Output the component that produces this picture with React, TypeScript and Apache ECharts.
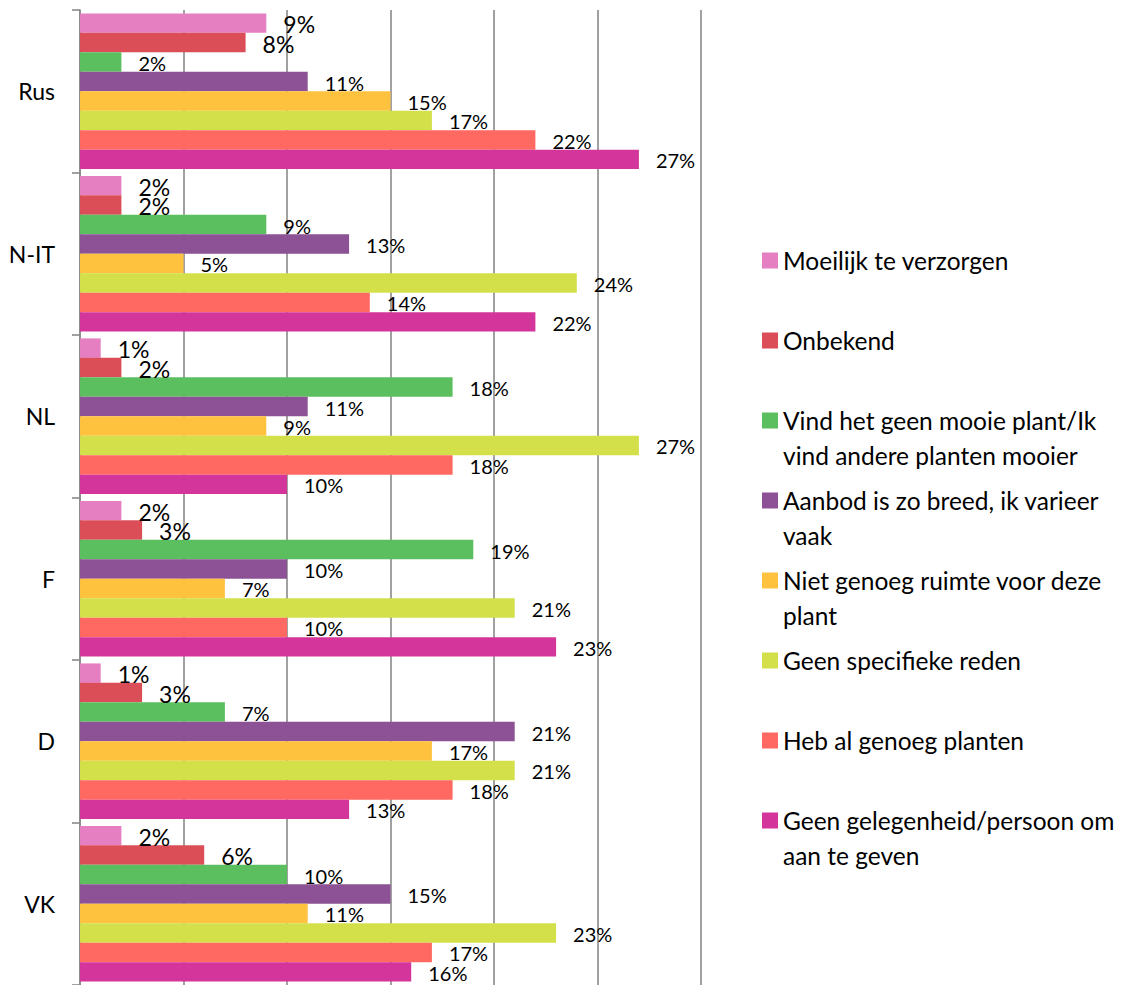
import React, { useEffect, useRef } from "react";
import * as echarts from "echarts";

const categories = ["Rus", "N-IT", "NL", "F", "D", "VK"];

const seriesNames = [
  "Moeilijk te verzorgen",
  "Onbekend",
  "Vind het geen mooie plant/Ik vind andere planten mooier",
  "Aanbod is zo breed, ik varieer vaak",
  "Niet genoeg ruimte voor deze plant",
  "Geen specifieke reden",
  "Heb al genoeg planten",
  "Geen gelegenheid/persoon om aan te geven",
];

const legendLines = [
  "Moeilijk te verzorgen",
  "Onbekend",
  "Vind het geen mooie plant/Ik\nvind andere planten mooier",
  "Aanbod is zo breed, ik varieer\nvaak",
  "Niet genoeg ruimte voor deze\nplant",
  "Geen specifieke reden",
  "Heb al genoeg planten",
  "Geen gelegenheid/persoon om\naan te geven",
];

const colors = [
  "#E57FC2",
  "#DB4E58",
  "#5BBF5F",
  "#8D5195",
  "#FFC23F",
  "#D3E04A",
  "#FF6961",
  "#D4359A",
];

const moeilijk = [9, 2, 1, 2, 1, 2];
const onbekend = [8, 2, 2, 3, 3, 6];
const vind = [2, 9, 18, 19, 7, 10];
const aanbod = [11, 13, 11, 10, 21, 15];
const nietGenoeg = [15, 5, 9, 7, 17, 11];
const geenSpecifiek = [17, 24, 27, 21, 21, 23];
const hebAl = [22, 14, 18, 10, 18, 17];
const geenGelegenheid = [27, 22, 10, 23, 13, 16];

const seriesValues = [
  moeilijk,
  onbekend,
  vind,
  aanbod,
  nietGenoeg,
  geenSpecifiek,
  hebAl,
  geenGelegenheid,
];

const FONT = "Lato, 'Open Sans', sans-serif";

export default function App() {
  const ref = useRef<HTMLDivElement>(null);

  useEffect(() => {
    if (!ref.current) return;
    const chart = echarts.init(ref.current, undefined, { renderer: "svg" });

    const series = seriesNames.map((name, i) => ({
      name,
      type: "bar",
      data: seriesValues[i],
      barGap: "0%",
      barCategoryGap: "4.2%",
      itemStyle: { color: colors[i] },
      label: {
        show: true,
        position: "right",
        distance: 17,
        offset: [0, 1],
        formatter: "{c}%",
        color: "#000",
        fontFamily: FONT,
        fontSize: i < 2 ? 23 : 20,
      },
    }));

    const legendGraphics: any[] = [];
    legendLines.forEach((txt, i) => {
      const cy = 260 + 80 * i;
      legendGraphics.push({
        type: "rect",
        shape: { x: 762, y: cy - 7.5, width: 16, height: 16 },
        style: { fill: colors[i] },
      });
      legendGraphics.push({
        type: "text",
        x: 783,
        y: cy - 17.5,
        style: {
          text: txt,
          fill: "#000",
          fontFamily: FONT,
          fontSize: 24.5,
          lineHeight: 35,
          verticalAlign: "top",
          align: "left",
        },
      });
    });

    chart.setOption({
      animation: false,
      backgroundColor: "#fff",
      grid: { left: 80, top: 10, width: 621, height: 977, containLabel: false },
      xAxis: {
        type: "value",
        min: 0,
        max: 30,
        interval: 5,
        axisLabel: { show: false },
        axisLine: { show: false },
        axisTick: { show: false },
        splitLine: { show: true, lineStyle: { color: "#8A8A8A", width: 1.6 } },
      },
      yAxis: {
        type: "category",
        inverse: true,
        data: categories,
        axisLine: { show: true, lineStyle: { color: "#8A8A8A", width: 1.6 } },
        axisTick: { show: true, inside: false, length: 8, alignWithLabel: false, lineStyle: { color: "#8A8A8A", width: 1.6 } },
        axisLabel: { color: "#000", fontFamily: FONT, fontSize: 23, margin: 25 },
      },
      series,
      graphic: legendGraphics,
    });

    return () => chart.dispose();
  }, []);

  return (
    <div
      ref={ref}
      style={{ position: "absolute", left: 0, top: 0, width: 1127, height: 985 }}
    />
  );
}
